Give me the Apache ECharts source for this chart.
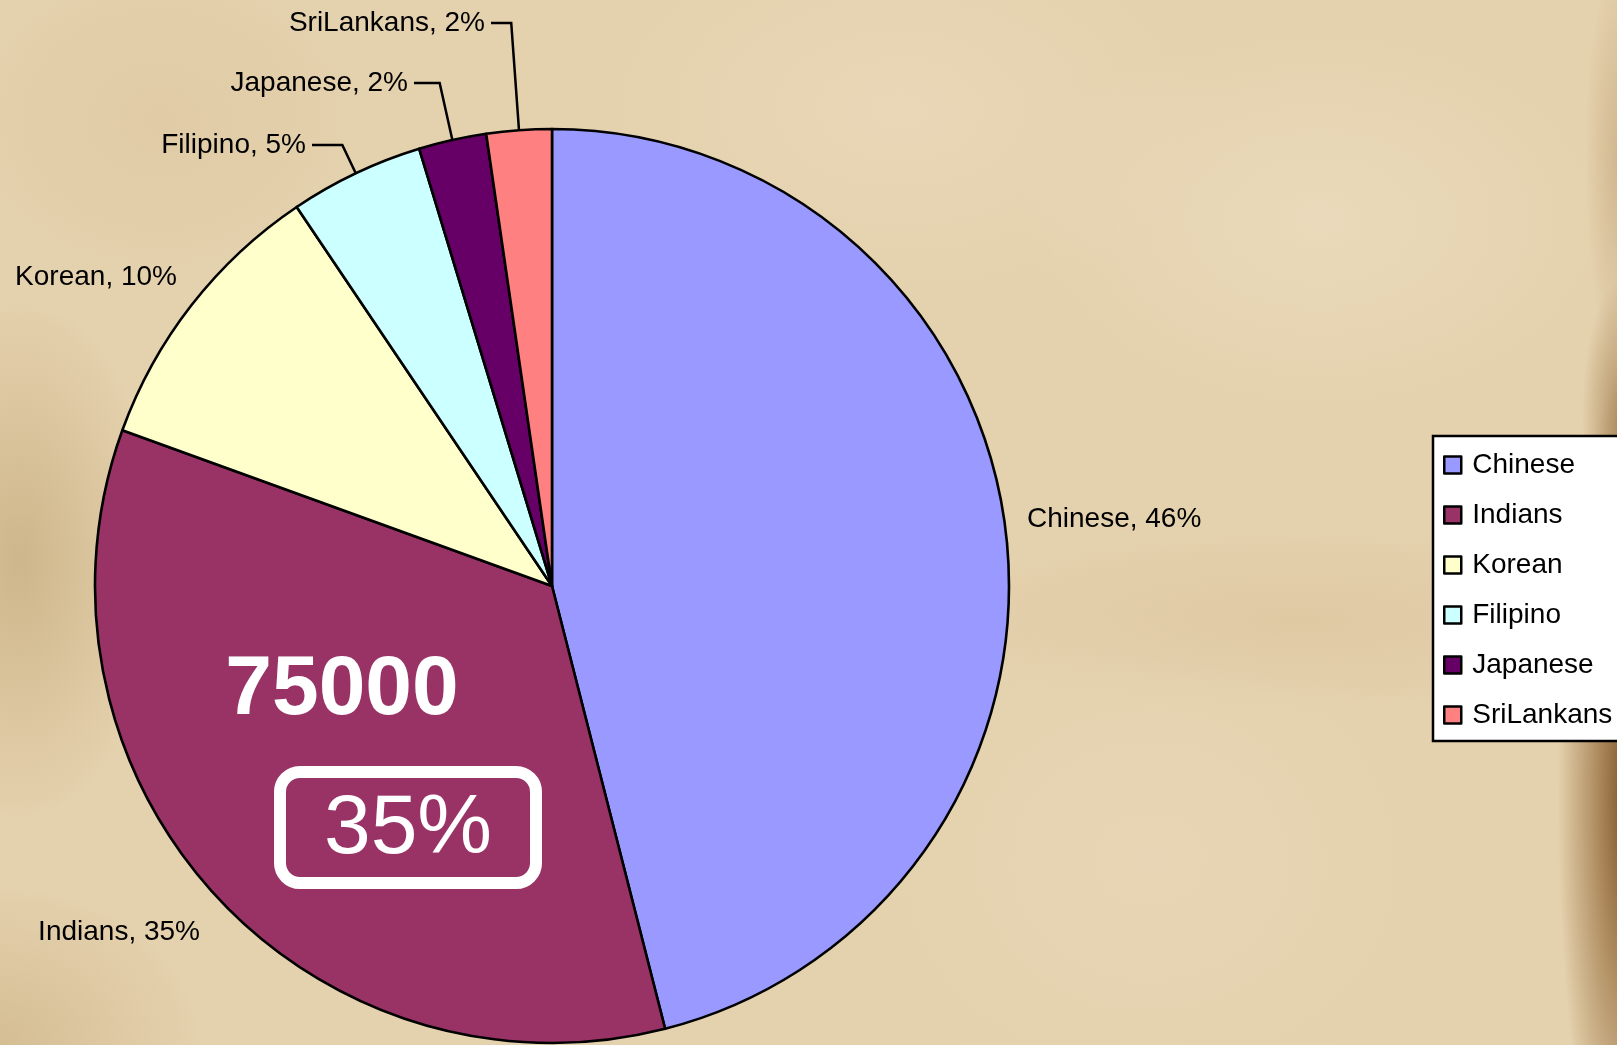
<!DOCTYPE html>
<html>
<head>
<meta charset="utf-8">
<script src="https://cdn.jsdelivr.net/npm/echarts@6/dist/echarts.min.js"></script>
<style>
html, body { margin: 0; padding: 0; width: 1617px; height: 1045px; overflow: hidden; }
body {
  background-color: #e4d1ad;
  background-image:
    radial-gradient(ellipse 70px 420px at 1628px 800px, rgba(115,75,30,0.95) 0%, rgba(140,95,45,0.6) 45%, rgba(160,110,60,0) 100%),
    radial-gradient(ellipse 40px 140px at 1622px 420px, rgba(140,95,45,0.6) 0%, rgba(160,110,60,0) 100%),
    radial-gradient(ellipse 35px 200px at 1620px 160px, rgba(170,130,80,0.35) 0%, rgba(170,130,80,0) 100%),
    radial-gradient(ellipse 140px 260px at 20px 560px, rgba(185,155,105,0.5) 0%, rgba(185,155,105,0) 100%),
    radial-gradient(ellipse 200px 160px at 0px 1045px, rgba(190,160,110,0.4) 0%, rgba(190,160,110,0) 100%),
    radial-gradient(ellipse 380px 90px at 1300px 620px, rgba(200,172,125,0.22) 0%, rgba(200,172,125,0) 100%),
    radial-gradient(ellipse 300px 200px at 1320px 220px, rgba(240,226,200,0.5) 0%, rgba(240,226,200,0) 100%),
    radial-gradient(ellipse 320px 200px at 900px 110px, rgba(238,222,194,0.45) 0%, rgba(238,222,194,0) 100%),
    radial-gradient(ellipse 300px 260px at 1150px 860px, rgba(236,220,192,0.4) 0%, rgba(236,220,192,0) 100%),
    radial-gradient(ellipse 200px 160px at 160px 120px, rgba(215,192,150,0.35) 0%, rgba(215,192,150,0) 100%);
}
#chart { width: 1617px; height: 1045px; }
</style>
</head>
<body>
<div id="chart"></div>
<script>
// ---- data ----
const categories = ['Chinese', 'Indians', 'Korean', 'Filipino', 'Japanese', 'SriLankans'];
const values = [100000, 75000, 21800, 10300, 5200, 5000];
const colors = ['#9999FF', '#993366', '#FFFFCC', '#CCFFFF', '#660066', '#FF8080'];
const calloutIndex = 1; // Indians call-out

// ---- layout ----
const CX = 552, CY = 586, R = 457;
// label anchor: x, y, align, leader line?
const labelAnchors = [
  [1027, 519, 'left', false],
  [200, 932, 'right', false],
  [177, 277, 'right', false],
  [306, 145, 'right', true],
  [408, 83, 'right', true],
  [485, 23, 'right', true]
];
const FONT = '"Liberation Sans", Arial, sans-serif';

const total = values.reduce((a, b) => a + b, 0);
const midAngles = [];
let cum = 0;
values.forEach(v => { midAngles.push((cum + v / 2) / total * Math.PI * 2); cum += v; });

const chart = echarts.init(document.getElementById('chart'), null, { renderer: 'canvas' });

const calloutValue = String(values[calloutIndex]);
const calloutPct = Math.round(values[calloutIndex] / total * 100) + '%';

chart.setOption({
  backgroundColor: 'transparent',
  animation: false,
  color: colors,
  legend: {
    orient: 'vertical',
    left: 1433,
    top: 436,
    data: categories,
    icon: 'rect',
    itemWidth: 17,
    itemHeight: 17,
    itemGap: 22,
    selectedMode: false,
    backgroundColor: '#ffffff',
    borderColor: '#000000',
    borderWidth: 2.5,
    borderRadius: 0,
    padding: [15, 60, 12, 10],
    itemStyle: { borderColor: '#000000', borderWidth: 2.5 },
    textStyle: { fontSize: 28, color: '#000000', fontFamily: FONT, padding: [0, 0, 0, 6] }
  },
  series: [{
    type: 'pie',
    center: [CX, CY],
    radius: R,
    startAngle: 90,
    clockwise: true,
    avoidLabelOverlap: false,
    silent: true,
    minShowLabelAngle: 0,
    itemStyle: { borderColor: '#000000', borderWidth: 2.6 },
    label: {
      show: true,
      position: 'outside',
      color: '#000000',
      fontSize: 28,
      fontFamily: FONT,
      formatter: p => p.name + ', ' + Math.round(p.percent) + '%'
    },
    labelLine: { show: true, length: 20, length2: 20, lineStyle: { color: '#000000', width: 2.5 } },
    labelLayout: function (params) {
      const i = params.dataIndex;
      const a = labelAnchors[i];
      const res = { x: a[0], y: a[1], align: a[2], verticalAlign: 'middle' };
      if (a[3]) {
        const m = midAngles[i];
        const dx = Math.sin(m), dy = -Math.cos(m);
        const ex = CX + R * dx, ey = CY + R * dy;
        const t = (a[1] - ey) / dy;
        const bx = ex + dx * t;
        res.labelLinePoints = [[ex, ey], [bx, a[1]], [a[0] + 6, a[1]]];
      }
      return res;
    },
    emphasis: { disabled: true },
    data: categories.map((name, i) => ({
      name: name,
      value: values[i],
      labelLine: { show: labelAnchors[i][3] }
    }))
  }],
  graphic: [
    {
      type: 'text', z: 100, x: 342, y: 691,
      style: { text: calloutValue, fill: '#ffffff', font: 'bold 84px ' + FONT, align: 'center', verticalAlign: 'middle' }
    },
    {
      type: 'rect', z: 100,
      shape: { x: 280, y: 772, width: 256, height: 111, r: 20 },
      style: { fill: 'none', stroke: '#ffffff', lineWidth: 12 }
    },
    {
      type: 'text', z: 100, x: 408, y: 830,
      style: { text: calloutPct, fill: '#ffffff', font: '84px ' + FONT, align: 'center', verticalAlign: 'middle' }
    }
  ]
});
</script>
</body>
</html>
